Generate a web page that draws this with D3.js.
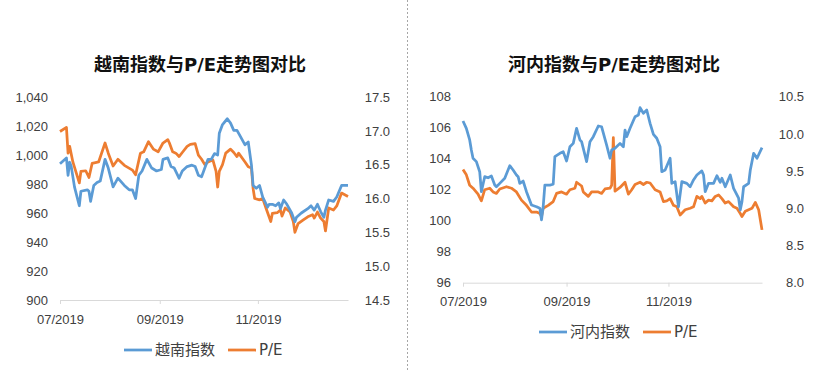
<!DOCTYPE html>
<html>
<head>
<meta charset="utf-8">
<script src="https://cdn.jsdelivr.net/npm/d3@7"></script>
<style>
  body { margin: 0; background: #fff; }
  svg { display: block; font-family: "DejaVu Sans", "Noto Sans CJK SC", sans-serif; }
</style>
</head>
<body>
<svg id="chart" width="820" height="372"></svg>
<script>
// ---- 越南指数 (VN-Index) ----
var vnDates = ["07-01","07-05","07-06","07-07","07-08","07-10","07-13","07-14","07-18","07-19","07-20","07-22","07-24","07-26","07-29","07-31",
  "08-03","08-06","08-10","08-13","08-15","08-17","08-19","08-21","08-24","08-27","08-30",
  "09-02","09-03","09-06","09-08","09-10","09-13","09-15","09-18","09-21","09-23","09-25","09-27","09-29",
  "10-01","10-03","10-05","10-07","10-08","10-10","10-13","10-15","10-17","10-19","10-21","10-24","10-26","10-28","10-29","10-31",
  "11-02","11-04","11-07","11-08","11-10","11-12","11-14","11-15","11-17","11-19","11-22","11-24","11-25","11-28",
  "12-02","12-04","12-06","12-08","12-10","12-12","12-13","12-15","12-18","12-20","12-23","12-27"];
var vnIndex = [994,998,986,995,992,978,965,975,976,975,968,979,981,982,997,991,
  978,984,979,976,976,970,986,989,997,991,989,
  990,997,998,992,991,984,989,992,993,992,986,985,991,
  997,997,1001,1000,1015,1021,1025,1022,1017,1017,1013,1007,1009,993,979,977,
  979,971,964,966,966,965,967,963,969,966,960,954,957,960,
  963,965,962,966,961,957,962,969,968,971,979,979];

var vnPeDates = ["07-01","07-05","07-06","07-07","07-09","07-13","07-14","07-17","07-19","07-21","07-25","07-29","07-31",
  "08-03","08-06","08-10","08-15","08-17","08-20","08-22","08-25","08-28","08-31",
  "09-03","09-06","09-07","09-09","09-11","09-13","09-15","09-18","09-20","09-23","09-25","09-27","09-29",
  "10-01","10-04","10-06","10-07","10-08","10-10","10-12","10-15","10-17","10-19","10-20","10-24","10-26","10-28","10-29","10-30",
  "11-02","11-04","11-06","11-09","11-10","11-13","11-15","11-16","11-18","11-21","11-23","11-24","11-26","11-29",
  "12-02","12-05","12-06","12-08","12-10","12-12","12-13","12-15","12-18","12-20","12-23","12-27"];
var vnPe = [16.99,17.05,16.67,16.77,16.54,16.23,16.40,16.41,16.31,16.52,16.54,16.82,16.67,
  16.48,16.58,16.49,16.42,16.35,16.67,16.69,16.84,16.73,16.69,
  16.82,16.87,16.82,16.69,16.67,16.62,16.68,16.77,16.80,16.81,16.64,16.58,16.50,
  16.54,16.57,16.40,16.17,16.40,16.50,16.67,16.73,16.68,16.62,16.67,16.54,16.47,16.45,16.15,16.00,
  15.98,16.00,15.86,15.66,15.78,15.79,15.83,15.74,15.86,15.80,15.66,15.50,15.63,15.68,
  15.73,15.76,15.71,15.80,15.71,15.66,15.52,15.86,15.83,15.89,16.08,16.03];

// ---- 河内指数 (HNX-Index) ----
var hnDates = ["07-01","07-03","07-05","07-06","07-07","07-09","07-11","07-12","07-14","07-16","07-18","07-20","07-21","07-23","07-26","07-29","07-31",
  "08-02","08-03","08-04","08-06","08-08","08-11","08-14","08-16","08-17","08-18","08-19","08-22","08-24","08-25","08-28","08-30",
  "09-01","09-03","09-05","09-07","09-09","09-10","09-13","09-15","09-17","09-20","09-22","09-25","09-27","09-28","09-30",
  "10-03","10-05","10-06","10-07","10-09","10-12","10-14","10-15","10-17","10-19","10-21","10-23","10-25","10-27","10-28","10-30",
  "11-02","11-03","11-05","11-07","11-09","11-12","11-14","11-16","11-18","11-21","11-22","11-23","11-25","11-28","11-30",
  "12-02","12-03","12-05","12-08","12-10","12-13","12-14","12-15","12-16","12-19","12-20","12-22","12-24","12-27"];
var hnIndex = [106.43,105.96,105.21,104.56,104.03,103.81,103.16,101.87,102.84,102.77,102.88,102.30,102.19,102.41,102.74,103.55,103.27,
  102.95,102.84,102.41,102.56,101.87,101.01,100.90,100.80,100.05,100.90,102.30,102.30,102.35,104.13,104.35,104.45,
  103.85,104.77,104.99,105.96,105.21,105.10,103.81,105.10,105.42,106.11,106.06,104.88,104.03,104.56,104.67,
  104.99,104.77,105.85,105.42,105.96,106.71,106.82,107.29,106.93,107.14,106.28,105.57,105.32,104.77,103.16,103.27,
  104.03,102.41,102.52,100.90,102.52,102.41,102.19,102.63,102.95,103.21,102.95,101.87,102.41,102.41,102.90,
  102.48,102.74,102.19,102.95,102.09,101.45,100.69,101.23,102.19,102.41,103.27,104.35,104.03,104.71];

var hnPeDates = ["07-01","07-03","07-05","07-07","07-10","07-12","07-14","07-17","07-19","07-21","07-23","07-27","07-30",
  "08-02","08-05","08-08","08-11","08-14","08-16","08-17","08-18","08-21","08-24","08-26","08-29",
  "09-01","09-03","09-06","09-07","09-10","09-11","09-14","09-16","09-20","09-22","09-24","09-27","09-28","09-29","09-30",
  "10-03","10-06","10-08","10-10","10-12","10-15","10-17","10-19","10-21","10-24","10-27","10-29","10-31",
  "11-02","11-04","11-06","11-08","11-11","11-14","11-16","11-18","11-20","11-21","11-23","11-25","11-27","11-29",
  "12-01","12-03","12-05","12-07","12-10","12-12","12-14","12-15","12-17","12-19","12-21","12-23","12-25","12-27"];
var hnPe = [9.52,9.45,9.31,9.27,9.19,9.10,9.25,9.27,9.22,9.20,9.26,9.29,9.27,
  9.22,9.11,9.04,8.95,8.95,8.93,8.89,9.00,9.04,9.09,9.20,9.22,
  9.19,9.25,9.27,9.35,9.30,9.22,9.16,9.22,9.22,9.20,9.26,9.27,9.31,9.95,9.23,
  9.28,9.35,9.19,9.25,9.32,9.35,9.32,9.35,9.34,9.25,9.22,9.09,9.10,
  9.13,9.04,9.02,8.91,8.98,9.00,9.02,9.16,9.13,9.16,9.07,9.11,9.10,9.16,
  9.18,9.13,9.07,9.09,9.02,9.00,8.93,8.89,8.96,8.98,9.00,9.08,8.98,8.71];

// axis ticks
var xTicks = ["07-01","09-01","11-01"];
var vnTicks = [900,920,940,960,980,1000,1020,1040];
var vnPeTicks = [14.5,15.0,15.5,16.0,16.5,17.0,17.5];
var hnTicks = [96,98,100,102,104,106,108];
var hnPeTicks = [8.0,8.5,9.0,9.5,10.0,10.5];

var blue = "#5B9BD5";
var orange = "#ED7D31";
var parse = function(s) { return d3.timeParse("%Y-%m-%d")("2019-" + s); };
var xStart = parse("07-01"), xEnd = parse("12-27");

var svg = d3.select("#chart");

function drawChart(o) {
  var g = svg.append("g");

  g.append("text")
    .attr("x", o.titleX).attr("y", 65).attr("dy", "0.35em")
    .attr("text-anchor", "middle")
    .attr("font-size", 18).attr("font-weight", "bold").attr("fill", "#111")
    .text(o.title);

  var x = d3.scaleTime().domain([xStart, xEnd]).range([o.left, o.right]);
  var y = d3.scaleLinear().domain(d3.extent(o.yTicks)).range([o.bottom, o.top]);
  var y2 = d3.scaleLinear().domain(d3.extent(o.y2Ticks)).range([o.bottom, o.top]);

  // x axis
  var gx = g.append("g")
    .attr("transform", "translate(0," + o.bottom + ")")
    .call(d3.axisBottom(x)
      .tickValues(xTicks.map(parse))
      .tickFormat(d3.timeFormat("%m/%Y"))
      .tickSizeInner(4).tickSizeOuter(0)
      .tickPadding(o.xPad));
  gx.select(".domain").attr("stroke", "#D9D9D9");
  gx.selectAll(".tick line").attr("stroke", "#D9D9D9");
  gx.selectAll("text").attr("font-size", 13).attr("fill", "#404040");

  // left axis
  var gy = g.append("g")
    .attr("transform", "translate(" + o.left + ",0)")
    .call(d3.axisLeft(y).tickValues(o.yTicks).tickFormat(o.yFormat).tickSize(0).tickPadding(12));
  gy.select(".domain").remove();
  gy.selectAll("text").attr("font-size", 13).attr("fill", "#404040");

  // right axis
  var gy2 = g.append("g")
    .attr("transform", "translate(" + o.right + ",0)")
    .call(d3.axisRight(y2).tickValues(o.y2Ticks).tickFormat(d3.format(".1f")).tickSize(0));
  gy2.select(".domain").remove();
  gy2.selectAll("text").attr("font-size", 13).attr("fill", "#404040")
    .attr("text-anchor", "end").attr("x", 42);

  var line1 = d3.line().x(function(d) { return x(d[0]); }).y(function(d) { return y(d[1]); });
  var line2 = d3.line().x(function(d) { return x(d[0]); }).y(function(d) { return y2(d[1]); });

  var idx = o.idxDates.map(function(d, i) { return [parse(d), o.idxValues[i]]; });
  var pe = o.peDates.map(function(d, i) { return [parse(d), o.peValues[i]]; });

  g.append("path").datum(pe)
    .attr("d", line2).attr("fill", "none").attr("stroke", orange)
    .attr("stroke-width", 2.75).attr("stroke-linejoin", "round");
  g.append("path").datum(idx)
    .attr("d", line1).attr("fill", "none").attr("stroke", blue)
    .attr("stroke-width", 2.75).attr("stroke-linejoin", "round");

  // legend
  var items = [
    { name: o.idxName, color: blue, x: o.legendX[0] },
    { name: "P/E", color: orange, x: o.legendX[1] }
  ];
  var lg = g.append("g").selectAll("g").data(items).join("g")
    .attr("transform", function(d) { return "translate(" + d.x + "," + o.legendY + ")"; });
  lg.append("line").attr("x1", 0).attr("x2", 28)
    .attr("stroke", function(d) { return d.color; }).attr("stroke-width", 2.75);
  lg.append("text").attr("x", 31).attr("dy", "0.35em")
    .attr("font-size", 15).attr("fill", "#404040")
    .text(function(d) { return d.name; });
}

drawChart({
  title: "越南指数与P/E走势图对比", titleX: 200, idxName: "越南指数",
  idxDates: vnDates, idxValues: vnIndex, peDates: vnPeDates, peValues: vnPe,
  left: 60, right: 348, top: 97, bottom: 300, xPad: 11,
  yTicks: vnTicks, yFormat: d3.format(","), y2Ticks: vnPeTicks,
  legendX: [124, 228], legendY: 350
});

drawChart({
  title: "河内指数与P/E走势图对比", titleX: 614, idxName: "河内指数",
  idxDates: hnDates, idxValues: hnIndex, peDates: hnPeDates, peValues: hnPe,
  left: 463, right: 762, top: 96.7, bottom: 282.7, xPad: 10,
  yTicks: hnTicks, yFormat: d3.format("d"), y2Ticks: hnPeTicks,
  legendX: [539, 643], legendY: 332
});

// dotted divider between the two charts
svg.append("line")
  .attr("x1", 407.5).attr("x2", 407.5).attr("y1", 0).attr("y2", 372)
  .attr("stroke", "#A6A6A6").attr("stroke-dasharray", "2,2");
</script>
</body>
</html>
